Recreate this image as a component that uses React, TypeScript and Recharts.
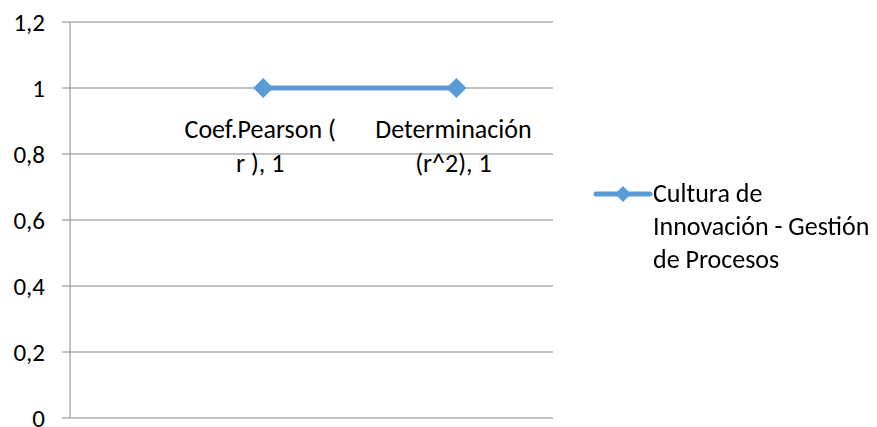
import { CartesianGrid, LabelList, Legend, Line, LineChart, XAxis, YAxis } from "recharts";

const SERIES = "#5B9BD5";
const GRID = "#868686";
const FONT = "Carlito, Calibri, 'Open Sans', sans-serif";
const FS = 26;
const LABEL_WIDTH = 158;

const seriesName = "Cultura de Innovación - Gestión de Procesos";
const categories = ["Coef.Pearson ( r )", "Determinación (r^2)"];
const positions = [1, 2];
const values = [1, 1];
const yTicks = [0, 0.2, 0.4, 0.6, 0.8, 1, 1.2];

const data = categories.map((c, i) => ({ name: c, x: positions[i], v: values[i] }));

// greedy word wrap, measured with a canvas in the label font
function wrap(text: string, maxWidth: number): string[] {
  const ctx = document.createElement("canvas").getContext("2d")!;
  ctx.font = `${FS}px ${FONT}`;
  const lines: string[] = [];
  let cur = "";
  for (const w of text.split(" ")) {
    const next = cur ? `${cur} ${w}` : w;
    if (cur && ctx.measureText(next).width > maxWidth) {
      lines.push(cur);
      cur = w;
    } else cur = next;
  }
  if (cur) lines.push(cur);
  return lines;
}

function Diamond(props: { cx?: number; cy?: number; r?: number }) {
  const { cx = 0, cy = 0, r = 10 } = props;
  return (
    <polygon
      points={`${cx},${cy - r} ${cx + r},${cy} ${cx},${cy + r} ${cx - r},${cy}`}
      fill={SERIES}
    />
  );
}

function PointLabel(props: any) {
  const { x, y, index } = props;
  const d = data[index];
  const lines = wrap(`${d.name}, ${d.v}`, LABEL_WIDTH);
  return (
    <text x={x - 3} y={y + 50} textAnchor="middle" fontSize={FS} fontFamily={FONT} fill="#000">
      {lines.map((l, i) => (
        <tspan key={i} x={x - 3} dy={i === 0 ? 0 : 34}>
          {l}
        </tspan>
      ))}
    </text>
  );
}

function LegendBox() {
  return (
    <div style={{ display: "flex", alignItems: "flex-start", fontFamily: FONT, fontSize: FS }}>
      <svg width={60} height={20} style={{ marginTop: 7, flex: "none" }}>
        <line x1={3} y1={10} x2={57} y2={10} stroke={SERIES} strokeWidth={5} strokeLinecap="round" />
        <Diamond cx={30} cy={10} r={8} />
      </svg>
      <div style={{ width: 230, lineHeight: "33px", color: "#000" }}>{seriesName}</div>
    </div>
  );
}

export default function App() {
  return (
    <div style={{ position: "fixed", left: 0, top: 0, background: "#fff" }}>
      <LineChart width={877} height={427} data={data} margin={{ top: 22, right: 324, bottom: 9, left: 0 }}>
        <CartesianGrid vertical={false} stroke={GRID} />
        <XAxis dataKey="x" type="number" domain={[0, 2.5]} hide />
        <YAxis
          domain={[0, 1.2]}
          ticks={yTicks}
          interval={0}
          width={70}
          tickSize={8}
          tickMargin={17}
          tickLine={{ stroke: GRID }}
          axisLine={{ stroke: GRID }}
          tickFormatter={(v: number) => String(v).replace(".", ",")}
          tick={{ fill: "#000", fontSize: 25, fontFamily: FONT }}
        />
        <Legend
          layout="horizontal"
          verticalAlign="middle"
          align="center"
          content={<LegendBox />}
          wrapperStyle={{ left: 593, top: 177, width: 290 }}
        />
        <Line
          dataKey="v"
          name={seriesName}
          stroke={SERIES}
          strokeWidth={5}
          dot={<Diamond r={10} />}
          activeDot={false}
          isAnimationActive={false}
        >
          <LabelList dataKey="v" content={<PointLabel />} />
        </Line>
      </LineChart>
    </div>
  );
}
